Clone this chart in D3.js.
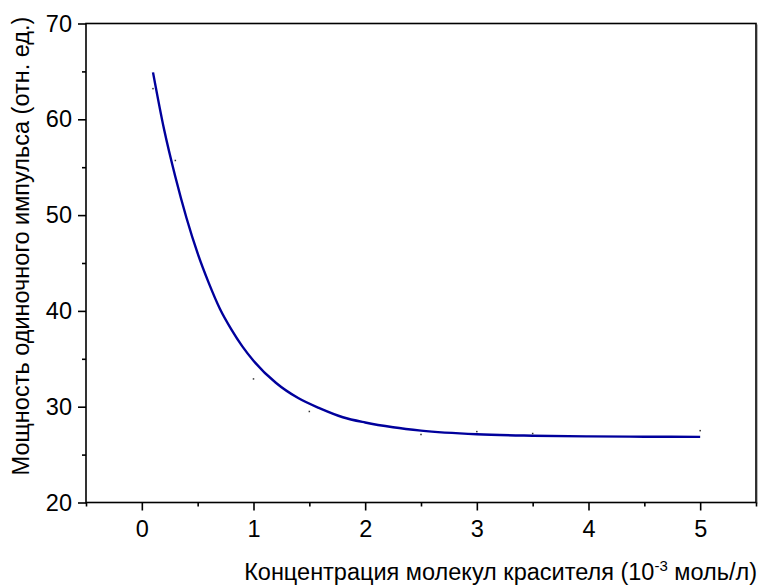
<!DOCTYPE html>
<html>
<head>
<meta charset="utf-8">
<script src="https://cdn.jsdelivr.net/npm/d3@7"></script>
<style>
  body { margin: 0; background: #fff; }
  text { font-family: "Liberation Sans", Arial, sans-serif; }
</style>
</head>
<body>
<div class="canvas"></div>
<script>
// fitted curve
const curveX = [0.1, 0.2, 0.3, 0.4, 0.5, 0.6, 0.7, 0.8, 0.9, 1.0, 1.2, 1.4, 1.6, 1.8, 2.0, 2.25, 2.5, 3.0, 3.5, 4.0, 4.5, 5.0];
const curveY = [64.9, 58.9, 54.0, 49.7, 46.0, 42.9, 40.2, 38.1, 36.3, 34.8, 32.5, 30.9, 29.8, 28.9, 28.35, 27.85, 27.5, 27.12, 26.97, 26.9, 26.87, 26.85];

// measured points (tiny dots)
const pointX = [0.1, 0.3, 1.0, 1.5, 2.5, 3.0, 3.5, 5.0];
const pointY = [63.2, 55.7, 32.9, 29.5, 27.1, 27.4, 27.2, 27.5];

const xTicks = [0, 1, 2, 3, 4, 5];
const xMinor = [-0.5, 0.5, 1.5, 2.5, 3.5, 4.5, 5.5];
const yTicks = [20, 30, 40, 50, 60, 70];
const yMinor = [25, 35, 45, 55, 65];

const xTitle = 'Концентрация молекул красителя (10';
const xTitleSup = '-3';
const xTitleEnd = ' моль/л)';
const yTitle = 'Мощность одиночного импульса (отн. ед.)';

const width = 759, height = 585;
const mLeft = 86, mRight = 756, mTop = 23.5, mBottom = 502.5;
const fs = '23.5px';

const svg = d3.select('.canvas')
    .append('svg')
    .attr('width', width)
    .attr('height', height);

const x = d3.scaleLinear().domain([-0.5, 5.5]).range([mLeft, mRight]);
const y = d3.scaleLinear().domain([20, 70]).range([mBottom, mTop]);

// frame
svg.append('line')
    .attr('x1', mRight + 1.2).attr('x2', mRight + 1.2)
    .attr('y1', mTop + 1).attr('y2', mBottom + 1)
    .attr('stroke', '#999').attr('stroke-width', 1);
svg.append('rect')
    .attr('x', mLeft).attr('y', mTop)
    .attr('width', mRight - mLeft).attr('height', mBottom - mTop)
    .attr('fill', 'none')
    .attr('stroke', '#000')
    .attr('stroke-width', 1.6);

// axes
function styleAxis(g) {
    g.select('.domain').remove();
    g.selectAll('line').attr('stroke', '#000').attr('stroke-width', 1.6);
    g.selectAll('text')
        .attr('fill', '#000')
        .style('font-size', fs)
        .style('font-family', '"Liberation Sans", Arial, sans-serif');
}

svg.append('g')
    .attr('transform', `translate(0,${mBottom})`)
    .call(d3.axisBottom(x).tickValues(xTicks).tickSize(8).tickPadding(10).tickFormat(d3.format('d')))
    .call(styleAxis);
svg.append('g')
    .attr('transform', `translate(0,${mBottom})`)
    .call(d3.axisBottom(x).tickValues(xMinor).tickSize(4).tickFormat(''))
    .call(styleAxis);

svg.append('g')
    .attr('transform', `translate(${mLeft},0)`)
    .call(d3.axisLeft(y).tickValues(yTicks).tickSize(8).tickPadding(6).tickFormat(d3.format('d')))
    .call(styleAxis);
svg.append('g')
    .attr('transform', `translate(${mLeft},0)`)
    .call(d3.axisLeft(y).tickValues(yMinor).tickSize(4).tickFormat(''))
    .call(styleAxis);

// curve
const line = d3.line()
    .x(d => x(d[0]))
    .y(d => y(d[1]))
    .curve(d3.curveMonotoneX);

svg.append('path')
    .datum(d3.zip(curveX, curveY))
    .attr('fill', 'none')
    .attr('stroke', '#00009c')
    .attr('stroke-width', 2.4)
    .attr('d', line);

// data dots
svg.selectAll('.pt')
    .data(d3.zip(pointX, pointY))
    .enter()
    .append('rect')
    .attr('class', 'pt')
    .attr('x', d => x(d[0]) - 0.75)
    .attr('y', d => y(d[1]) - 0.75)
    .attr('width', 1.5)
    .attr('height', 1.5)
    .attr('fill', '#333');

// titles
const xt = svg.append('text')
    .attr('x', 757)
    .attr('y', 580)
    .attr('text-anchor', 'end')
    .attr('fill', '#000')
    .style('font-size', fs);
xt.append('tspan').text(xTitle);
xt.append('tspan').attr('dy', -9).style('font-size', '15px').text(xTitleSup);
xt.append('tspan').attr('dy', 9).text(xTitleEnd);

svg.append('text')
    .attr('transform', `translate(29,${246}) rotate(-90)`)
    .attr('text-anchor', 'middle')
    .attr('fill', '#000')
    .style('font-size', fs)
    .text(yTitle);
</script>
</body>
</html>
